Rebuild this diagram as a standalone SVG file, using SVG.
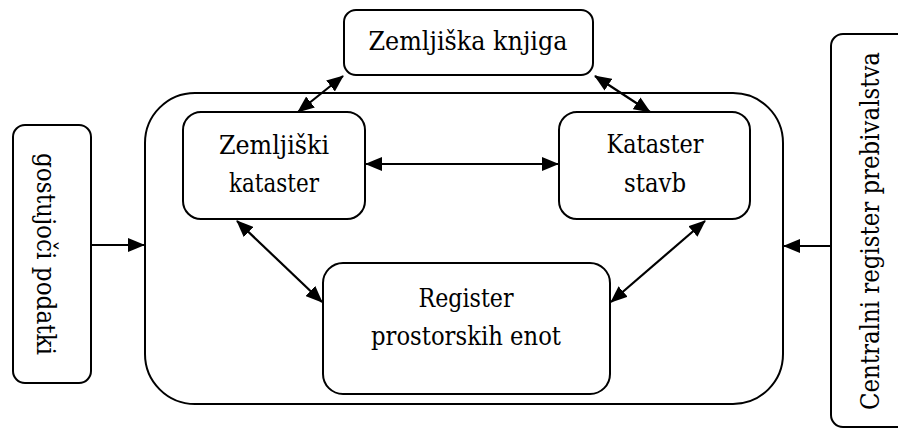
<svg xmlns="http://www.w3.org/2000/svg" width="898" height="430" viewBox="0 0 898 430">
<style>
.box{fill:#fff;stroke:#000;stroke-width:2}
.t{font-family:'DejaVu Serif',serif;font-size:26px;fill:#000;text-anchor:middle}
.c{stroke:#000;stroke-width:2.2;fill:none}
</style>
<defs>
<marker id="ah" viewBox="0 0 17 14" refX="16" refY="7" markerWidth="17" markerHeight="14" markerUnits="userSpaceOnUse" orient="auto-start-reverse">
<path d="M0,0 L17,7 L0,14 z" fill="#000"/>
</marker>
</defs>
<rect x="0" y="0" width="898" height="430" fill="#fff"/>
<g id="container"><rect class="box" x="145" y="93" width="638" height="311" rx="50" ry="50"/></g>
<g id="zemljiska-knjiga"><rect class="box" x="344" y="10" width="249" height="65" rx="12"/><text class="t" x="468" y="50" textLength="199" lengthAdjust="spacingAndGlyphs">Zemljiška knjiga</text></g>
<g id="zemljiski-kataster"><rect class="box" x="183" y="112" width="182" height="107" rx="18"/><text class="t" x="274" y="154" textLength="110" lengthAdjust="spacingAndGlyphs">Zemljiški</text><text class="t" x="274" y="192" textLength="90" lengthAdjust="spacingAndGlyphs">kataster</text></g>
<g id="kataster-stavb"><rect class="box" x="559" y="112" width="191" height="107" rx="18"/><text class="t" x="655" y="153" textLength="97" lengthAdjust="spacingAndGlyphs">Kataster</text><text class="t" x="655" y="192" textLength="62" lengthAdjust="spacingAndGlyphs">stavb</text></g>
<g id="register"><rect class="box" x="323" y="263" width="287" height="131" rx="20"/><text class="t" x="466" y="307" textLength="95" lengthAdjust="spacingAndGlyphs">Register</text><text class="t" x="466" y="345" textLength="190" lengthAdjust="spacingAndGlyphs">prostorskih enot</text></g>
<g id="gostujoci"><rect class="box" x="13" y="125" width="78" height="258" rx="12"/><text class="t" transform="translate(37,254) rotate(90)" textLength="202" lengthAdjust="spacingAndGlyphs">gostujoči podatki</text></g>
<g id="centralni"><rect class="box" x="831" y="34" width="90" height="393" rx="12"/><text class="t" transform="translate(879,231) rotate(-90)" textLength="358" lengthAdjust="spacingAndGlyphs">Centralni register prebivalstva</text></g>
<g id="connectors">
<line class="c" x1="343" y1="76" x2="298" y2="112" marker-start="url(#ah)" marker-end="url(#ah)"/>
<line class="c" x1="595" y1="76" x2="650" y2="112" marker-start="url(#ah)" marker-end="url(#ah)"/>
<line class="c" x1="366" y1="164" x2="558" y2="164" marker-start="url(#ah)" marker-end="url(#ah)"/>
<line class="c" x1="237" y1="221" x2="322" y2="302" marker-start="url(#ah)" marker-end="url(#ah)"/>
<line class="c" x1="705" y1="221" x2="611" y2="302" marker-start="url(#ah)" marker-end="url(#ah)"/>
<line class="c" x1="91" y1="245" x2="144" y2="245" marker-end="url(#ah)"/>
<line class="c" x1="831" y1="246" x2="784" y2="246" marker-end="url(#ah)"/>
</g>
</svg>
